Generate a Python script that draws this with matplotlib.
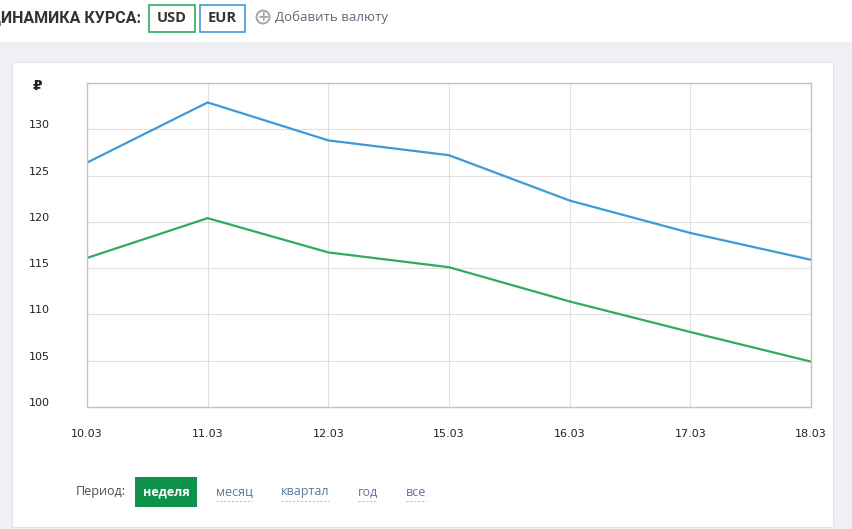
import matplotlib
matplotlib.use('Agg')
import matplotlib.pyplot as plt
import matplotlib.transforms as mtransforms
from matplotlib.patches import Rectangle, Circle

# data
dates = ['10.03', '11.03', '12.03', '15.03', '16.03', '17.03', '18.03']
eur_rate = [126.4, 132.9, 128.8, 127.2, 122.3, 118.8, 115.9]
usd_rate = [116.1, 120.4, 116.7, 115.1, 111.4, 108.1, 104.9]
y_ticks = [100, 105, 110, 115, 120, 125, 130, 135]
period_labels = ['неделя', 'месяц', 'квартал', 'год', 'все']
period_x = [166, 234, 305, 368, 416]

W, H = 852, 529
BG = '#eef0f3'
BLUE = '#3d9ad6'
GREEN = '#2faa5f'
GRID = '#e0e0e0'
FRAME = '#c4c4c4'


def px(x, y):
    # pixel coords (top-left origin) -> figure fraction
    return x / W, 1 - y / H


fig = plt.figure(figsize=(W / 100, H / 100), dpi=100, facecolor=BG)

# header strip and card
fig.patches.append(Rectangle((0, 1 - 42 / H), 1, 42 / H, transform=fig.transFigure,
                             facecolor='white', edgecolor='none', zorder=0))
fig.patches.append(Rectangle((12 / W, 1 - 527 / H), 821 / W, 465 / H,
                             transform=fig.transFigure, facecolor='white',
                             edgecolor='#e2e4e8', lw=0.8, zorder=0))

# header texts
fig.text(*px(141, 18), 'ДИНАМИКА КУРСА:', fontsize=11.5, fontweight='bold',
         color='#333333', family='Roboto', va='center', ha='right')
for x0, x1, label, col in [(149, 195, 'USD', GREEN), (200, 245, 'EUR', BLUE)]:
    fig.patches.append(Rectangle((x0 / W, 1 - 32 / H), (x1 - x0) / W, 27 / H,
                                 transform=fig.transFigure, facecolor='white',
                                 edgecolor=col, lw=1.2, zorder=1))
    fig.text(*px((x0 + x1) / 2, 18), label, fontsize=10.5, fontweight='bold',
             color='#333333', family='Open Sans', ha='center', va='center')
cx, cy = px(263, 17)
fig.patches.append(Circle((cx * W, cy * H), 6.5,
                          transform=mtransforms.Affine2D().scale(1 / W, 1 / H) + fig.transFigure,
                          facecolor='none', edgecolor='#a0a6ad', lw=1.4, zorder=2))
fig.text(cx, cy, '+', fontsize=10, fontweight='bold', color='#a0a6ad',
         ha='center', va='center')
fig.text(*px(275, 17), 'Добавить валюту', fontsize=9.5, color='#5c6b7a',
         family='Open Sans', ha='left', va='center')

# chart
ax = fig.add_axes([87 / W, (H - 407) / H, (811 - 87) / W, (407 - 83) / H])
ax.set_zorder(5)
ax.set_facecolor('white')
x = list(range(len(dates)))
ax.plot(x, eur_rate, color=BLUE, lw=1.6, solid_joinstyle='round')
ax.plot(x, usd_rate, color=GREEN, lw=1.6, solid_joinstyle='round')

ax.set_xlim(0, len(dates) - 1)
ax.set_ylim(y_ticks[0], y_ticks[-1])
ax.set_xticks(x)
ax.set_xticklabels(dates)
ax.set_yticks(y_ticks)
ax.set_yticklabels([str(v) for v in y_ticks[:-1]] + [''])
ax.grid(True, color=GRID, lw=0.8)
ax.set_axisbelow(True)
for s in ax.spines.values():
    s.set_color(FRAME)
    s.set_linewidth(1.0)
ax.tick_params(length=0, labelsize=8, labelcolor='#222222')
ax.tick_params(axis='y', pad=26.5)
ax.tick_params(axis='x', pad=16)

up = mtransforms.ScaledTranslation(0, 5 / 100, fig.dpi_scale_trans)
for lab in ax.get_yticklabels():
    lab.set_transform(lab.get_transform() + up)

fig.text(*px(37, 86), '₽', fontsize=10, fontweight='bold', color='#222222',
         ha='center', va='center')

# period selector
fig.text(*px(76, 492), 'Период:', fontsize=9, color='#4a4a4a',
         family='Open Sans', ha='left', va='center')
fig.patches.append(Rectangle((135 / W, 1 - 507 / H), 62 / W, 30 / H,
                             transform=fig.transFigure, facecolor='#0f924b',
                             edgecolor='none', zorder=1))
for i, (lab, xc) in enumerate(zip(period_labels, period_x)):
    if i == 0:
        fig.text(*px(xc, 492), lab, fontsize=9, color='white', fontweight='bold',
                 family='Open Sans', ha='center', va='center', zorder=3)
    else:
        t = fig.text(*px(xc, 492), lab, fontsize=9, color='#5a7896',
                     family='Open Sans', ha='center', va='center')
        fig.canvas.draw()
        bb = t.get_window_extent()
        fig.lines.append(plt.Line2D([bb.x0 / W, bb.x1 / W], [(H - 501) / H] * 2,
                                    transform=fig.transFigure, color='#b8c4d0',
                                    lw=0.8, ls=(0, (2, 1.5))))

fig.savefig('out.png', dpi=100, facecolor=BG)
